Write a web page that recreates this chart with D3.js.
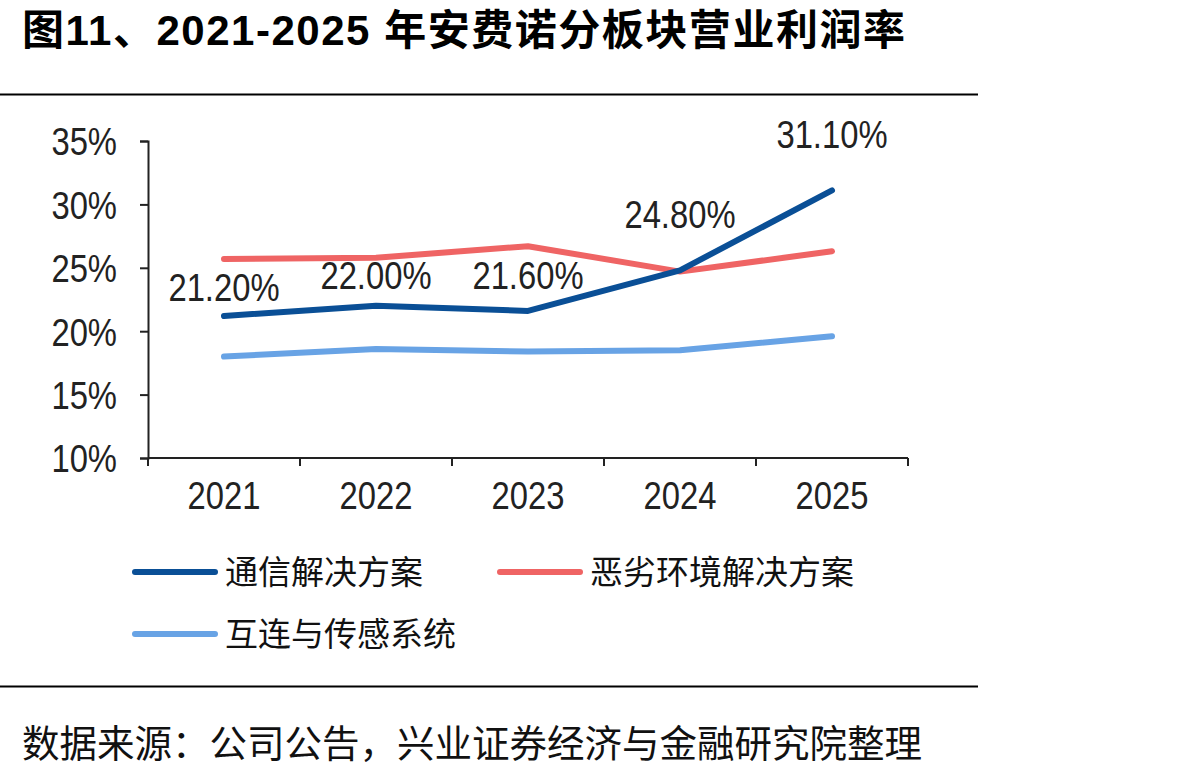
<!DOCTYPE html>
<html><head><meta charset="utf-8">
<script src="https://cdn.jsdelivr.net/npm/d3@7"></script>
<style>
html,body{margin:0;padding:0;background:#fff;}
svg{display:block;}
</style></head>
<body>
<svg id="c" width="1192" height="776"></svg>
<script>
const years = ["2021","2022","2023","2024","2025"];
const seriesNames = ["通信解决方案","恶劣环境解决方案","互连与传感系统"];
const comm = [21.2, 22.0, 21.6, 24.8, 31.1];
const harsh = [25.7, 25.8, 26.7, 24.7, 26.3];
const interconnect = [18.0, 18.6, 18.4, 18.5, 19.6];
const commLabels = ["21.20%","22.00%","21.60%","24.80%","31.10%"];
const yTicks = [10, 15, 20, 25, 30, 35];
const titleText = "图11、2021-2025 年安费诺分板块营业利润率";
const sourceText = "数据来源：公司公告，兴业证券经济与金融研究院整理";

const colors = ["#0a4f96", "#ef6464", "#68a3e5"];
const labelLift = [29, 31, 36, 56, 56];
const SANS = "'Liberation Sans',Arial,sans-serif";
const CJK = "'Noto Sans CJK SC','Liberation Sans',sans-serif";
const NX = 0.83; // horizontal compression to mimic a narrow face

const svg = d3.select("#c");
const x = d3.scaleBand().domain(years).range([148, 908]);
const y = d3.scaleLinear().domain([10, 35]).range([458, 141]);

function narrowText(g, tx, ty, anchor, txt) {
  return g.append("text")
    .attr("transform", `translate(${tx},${ty}) scale(${NX},1)`)
    .attr("dy", "0.35em").attr("text-anchor", anchor)
    .attr("font-family", SANS).attr("font-size", 39.5).attr("fill", "#222")
    .text(txt);
}

// title (Latin in Liberation Sans, CJK falls back to Noto)
svg.append("text").attr("x", 22).attr("y", 45)
  .attr("font-family", "'Liberation Sans','Noto Sans CJK SC',sans-serif")
  .attr("font-weight", "bold").attr("font-size", 42)
  .attr("textLength", 883).attr("lengthAdjust", "spacing")
  .attr("fill", "#000").text(titleText);

// rules
svg.append("line").attr("x1", 0).attr("x2", 978).attr("y1", 94.5).attr("y2", 94.5)
  .attr("stroke", "#000").attr("stroke-width", 2);
svg.append("line").attr("x1", 0).attr("x2", 978).attr("y1", 686.5).attr("y2", 686.5)
  .attr("stroke", "#000").attr("stroke-width", 2);

// y axis
const yAxis = d3.axisLeft(y).tickValues(yTicks).tickFormat(d => d + "%").tickSize(8);
const gy = svg.append("g").attr("transform", "translate(148,0)").call(yAxis);
gy.selectAll(".tick text").remove();
gy.selectAll(".tick").each(function(d) {
  narrowText(d3.select(this), -31, 0, "end", d + "%");
});

// x axis: category boundaries
const xAxis = d3.axisBottom(x).tickSize(0).tickFormat("");
const gx = svg.append("g").attr("transform", "translate(0,458)").call(xAxis);
gx.selectAll(".tick").remove();
gx.select(".domain").attr("d", "M148,0H908");
const bounds = years.map(d => x(d)).concat([x.range()[1]]);
gx.selectAll("line.b").data(bounds).join("line").attr("class", "b")
  .attr("x1", d => d).attr("x2", d => d).attr("y1", 0).attr("y2", 8)
  .attr("stroke", "#222").attr("stroke-width", 2);
years.forEach(d => narrowText(gx, x(d) + x.bandwidth() / 2, 37, "middle", d));

[gy, gx].forEach(g => {
  g.select(".domain").attr("stroke", "#222").attr("stroke-width", 2);
  g.selectAll(".tick line").attr("stroke", "#222").attr("stroke-width", 2);
});

// lines
const line = d3.line().x((d, i) => x(years[i]) + x.bandwidth() / 2).y(d => y(d));
const allSeries = [comm, harsh, interconnect];
[1, 2, 0].forEach(k => {
  svg.append("path").datum(allSeries[k]).attr("d", line)
    .attr("fill", "none").attr("stroke", colors[k]).attr("stroke-width", 6)
    .attr("stroke-linecap", "round").attr("stroke-linejoin", "round");
});

// data labels
const lbl = svg.append("g");
comm.forEach((d, i) => narrowText(lbl, x(years[i]) + x.bandwidth() / 2, y(d) - labelLift[i], "middle", commLabels[i]));

// legend
const legendPos = [[135, 572], [500, 572], [135, 634]];
const lg = svg.append("g");
seriesNames.forEach((name, k) => {
  const [lx, ly] = legendPos[k];
  lg.append("line").attr("x1", lx).attr("x2", lx + 80).attr("y1", ly).attr("y2", ly)
    .attr("stroke", colors[k]).attr("stroke-width", 6).attr("stroke-linecap", "round");
  lg.append("text").attr("x", lx + 90).attr("y", ly).attr("dy", "0.36em")
    .attr("font-family", CJK).attr("font-size", 33).attr("fill", "#111").text(name);
});

// source
svg.append("text").attr("x", 22).attr("y", 757)
  .attr("font-family", CJK).attr("font-size", 37.5).attr("fill", "#111").text(sourceText);
</script>
</body></html>
